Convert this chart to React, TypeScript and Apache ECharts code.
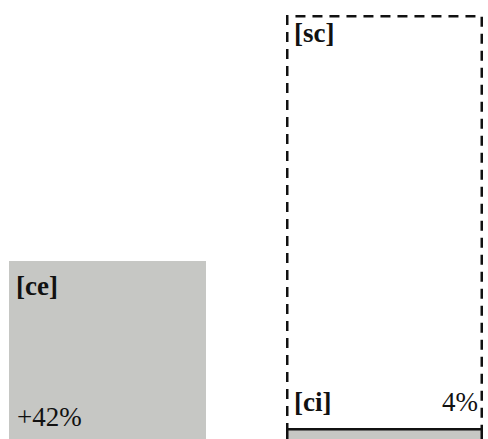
import React, { useEffect, useRef } from "react";
import * as echarts from "echarts";

const categories = ["ce", "sc"];
const ceValues = [42, "-"];
const scValues = ["-", 98];
const ciValues = ["-", 4];
const ceName = "[ce]";
const ceChange = "+42%";
const scName = "[sc]";
const ciName = "[ci]";
const ciShare = "4%";

const GRAY = "#c6c7c4";
const INK = "#111111";
const FONT = "'Liberation Serif', 'Times New Roman', serif";

export default function App() {
  const ref = useRef<HTMLDivElement>(null);
  useEffect(() => {
    document.body.style.margin = "0";
    if (!ref.current) return;
    const chart = echarts.init(ref.current, null, { renderer: "svg" });
    const baseLabel = {
      show: true,
      fontFamily: FONT,
      fontSize: 27,
      color: INK,
      verticalAlign: "top",
    };
    chart.setOption({
      animation: false,
      backgroundColor: "#ffffff",
      grid: { left: -31, right: -35, top: 6.1, bottom: -6.6, containLabel: false, outerBoundsMode: "none" },
      xAxis: { type: "category", data: categories, show: false },
      yAxis: { type: "value", min: 0, max: 100, show: false },
      series: [
        {
          name: "ce",
          type: "bar",
          data: ceValues,
          barWidth: 197,
          barGap: "-100%",
          itemStyle: { color: GRAY },
          label: { ...baseLabel, fontWeight: "bold", position: [7, 11], formatter: () => ceName },
        },
        {
          name: "ce change",
          type: "bar",
          data: ceValues,
          barWidth: 197,
          barGap: "-100%",
          silent: true,
          itemStyle: { color: "rgba(0,0,0,0)" },
          label: { ...baseLabel, position: [8, 142], formatter: () => ceChange },
        },
        {
          name: "sc",
          type: "bar",
          data: scValues,
          barWidth: 197,
          barGap: "-100%",
          itemStyle: { color: "#ffffff", borderColor: INK, borderWidth: 2.5, borderType: [10, 7] },
          label: { ...baseLabel, fontWeight: "bold", position: [8, 5], formatter: () => scName },
        },
        {
          name: "ci",
          type: "bar",
          data: ciValues,
          barWidth: 197,
          barGap: "-100%",
          itemStyle: { color: GRAY, borderColor: INK, borderWidth: 2.5 },
          label: { ...baseLabel, fontWeight: "bold", position: [8, -40], formatter: () => ciName },
        },
        {
          name: "ci share",
          type: "bar",
          data: ciValues,
          barWidth: 197,
          barGap: "-100%",
          silent: true,
          itemStyle: { color: "rgba(0,0,0,0)" },
          label: { ...baseLabel, position: [192, -40], align: "right", formatter: () => ciShare },
        },
      ],
    });
    return () => chart.dispose();
  }, []);
  return (
    <div
      ref={ref}
      style={{ position: "absolute", left: 0, top: 0, width: 488, height: 439 }}
    />
  );
}
